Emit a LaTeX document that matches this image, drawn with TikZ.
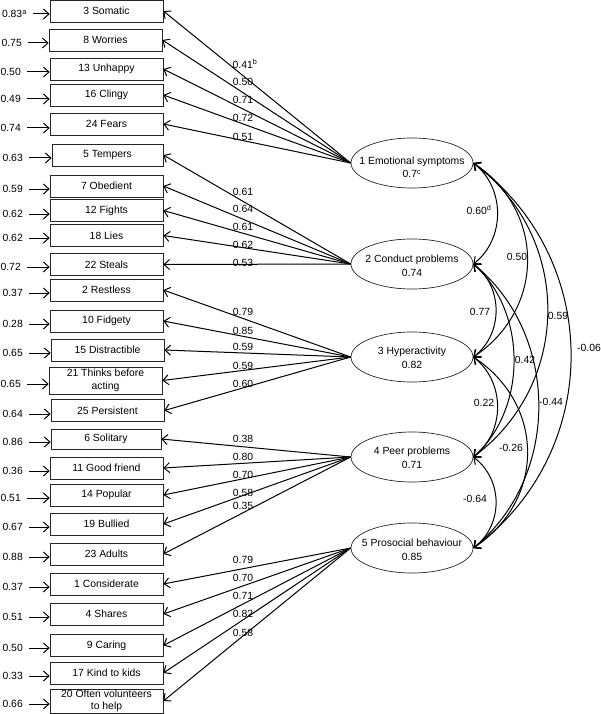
\documentclass[tikz,border=0pt]{standalone}
\usepackage{fontspec}
\setmainfont{Liberation Sans}
\usetikzlibrary{shapes.geometric,arrows.meta}
\begin{document}
\begin{tikzpicture}[x=1pt,y=-1pt,
 font=\fontsize{10.4}{12.5}\selectfont,
 box/.style={draw=black!85, line width=0.7pt, minimum width=113pt, minimum height=22pt, inner sep=0pt, align=center},
 err/.style={anchor=east, inner sep=0pt, text height=7.5pt, text depth=0pt},
 lat/.style={draw=black!85, line width=0.7pt, ellipse, minimum width=122pt, minimum height=50pt, inner sep=0pt},
 lattext/.style={align=center, inner sep=0pt, font=\fontsize{10.4}{13.5}\selectfont},
 arr/.style={line width=1pt, -{Straight Barb[length=5.5pt,width=10pt]}},
 earr/.style={arr, shorten <=6pt},
 cor/.style={line width=1pt, {Straight Barb[length=5.5pt,width=10pt]}-{Straight Barb[length=5.5pt,width=10pt]}},
 lbl/.style={inner sep=0pt}]
\useasboundingbox (0,0) rectangle (600,714);

% boxes
\node[box] (b1) at (106.5,11) {3 Somatic};
\node[box] (b2) at (105.5,40) {8 Worries};
\node[box] (b3) at (106.5,69) {13 Unhappy};
\node[box] (b4) at (106.5,95) {16 Clingy};
\node[box] (b5) at (106.5,124) {\raisebox{-3pt}{24 Fears}};
\node[box, minimum width=111pt] (b6) at (107.5,155) {5 Tempers};
\node[box] (b7) at (106.5,186) {7 Obedient};
\node[box] (b8) at (106.5,210.5) {12 Fights};
\node[box] (b9) at (106.5,235.5) {18 Lies};
\node[box] (b10) at (106.5,264.5) {\raisebox{-3pt}{22 Steals}};
\node[box] (b11) at (106.5,290) {2 Restless};
\node[box] (b12) at (106.5,321) {\raisebox{-1.5pt}{10 Fidgety}};
\node[box] (b13) at (107.5,350) {15 Distractible};
\node[box, minimum height=27pt] (b14) at (105.5,380.5) {21 Thinks before\\acting};
\node[box] (b15) at (107.5,410.5) {25 Persistent};
\node[box, minimum width=110pt, minimum height=20pt] (b16) at (106,439) {6 Solitary};
\node[box] (b17) at (106.5,468) {11 Good friend};
\node[box] (b18) at (106.5,495) {14 Popular};
\node[box] (b19) at (106.5,524) {19 Bullied};
\node[box] (b20) at (106.5,554) {23 Adults};
\node[box] (b21) at (106.5,584) {1 Considerate};
\node[box] (b22) at (106.5,614) {4 Shares};
\node[box] (b23) at (106.5,645.5) {9 Caring};
\node[box] (b24) at (106.5,673) {17 Kind to kids};
\node[box, minimum height=24pt] (b25) at (106.5,701) {20 Often volunteers\\to help};

% error terms
\node[err] (e1) at (27,14) {0.83\textsuperscript{a}};
\node[err] (e2) at (22,43) {0.75};
\node[err] (e3) at (21,72) {0.50};
\node[err] (e4) at (21,99) {0.49};
\node[err] (e5) at (21,128) {0.74};
\node[err] (e6) at (23,158) {0.63};
\node[err] (e7) at (23,189) {0.59};
\node[err] (e8) at (23,214) {0.62};
\node[err] (e9) at (23,238) {0.62};
\node[err] (e10) at (21,267) {0.72};
\node[err] (e11) at (23,293) {0.37};
\node[err] (e12) at (23,324) {0.28};
\node[err] (e13) at (23,353) {0.65};
\node[err] (e14) at (21,384) {0.65};
\node[err] (e15) at (23,414) {0.64};
\node[err] (e16) at (23,442) {0.86};
\node[err] (e17) at (23,471) {0.36};
\node[err] (e18) at (21,498) {0.51};
\node[err] (e19) at (23,527) {0.67};
\node[err] (e20) at (23,557) {0.88};
\node[err] (e21) at (23,587) {0.37};
\node[err] (e22) at (23,617) {0.51};
\node[err] (e23) at (23,648) {0.50};
\node[err] (e24) at (23,676) {0.33};
\node[err] (e25) at (23,704) {0.66};
\foreach \i in {1,...,25} {\draw[earr] (e\i.east) -- (e\i.east -| b\i.west);}

% latent factors
\node[lat] (f1) at (412,163) {};
\node[lattext] (t1) at ([yshift=-4.5pt]f1.center) {1 Emotional symptoms\\0.7\textsuperscript{c}};
\node[lat] (f2) at (412,264) {};
\node[lattext] (t2) at ([yshift=-2pt]f2.center) {2 Conduct problems\\0.74};
\node[lat] (f3) at (412,357) {};
\node[lattext] (t3) at ([yshift=-1pt]f3.center) {3 Hyperactivity\\0.82};
\node[lat] (f4) at (412,457) {};
\node[lattext] (t4) at ([yshift=-1pt]f4.center) {4 Peer problems\\0.71};
\node[lat] (f5) at (412,548) {};
\node[lattext] (t5) at ([yshift=-2pt]f5.center) {5 Prosocial behaviour\\0.85};

% loadings
\foreach \i in {1,...,5} {\draw[arr] (f1.west) -- (b\i.east);}
\foreach \i in {6,...,10} {\draw[arr] (f2.west) -- (b\i.east);}
\foreach \i in {11,...,15} {\draw[arr] (f3.west) -- (b\i.east);}
\foreach \i in {16,...,20} {\draw[arr] (f4.west) -- (b\i.east);}
\foreach \i in {21,...,25} {\draw[arr] (f5.west) -- (b\i.east);}

\node[lbl] (l1) at (245,64) {0.41\textsuperscript{b}};
\node[lbl] (l2) at (243,82) {0.50};
\node[lbl] (l3) at (243,100) {0.71};
\node[lbl] (l4) at (243,118) {0.72};
\node[lbl] (l5) at (243,137) {0.51};
\node[lbl] (l6) at (243,192) {0.61};
\node[lbl] (l7) at (243,209) {0.64};
\node[lbl] (l8) at (243,227) {0.61};
\node[lbl] (l9) at (243,245) {0.62};
\node[lbl] (l10) at (243,263) {0.53};
\node[lbl] (l11) at (243,312) {0.79};
\node[lbl] (l12) at (243,331) {0.85};
\node[lbl] (l13) at (243,347) {0.59};
\node[lbl] (l14) at (243,366) {0.59};
\node[lbl] (l15) at (243,384) {0.60};
\node[lbl] (l16) at (243,439) {0.38};
\node[lbl] (l17) at (243,457) {0.80};
\node[lbl] (l18) at (243,475) {0.70};
\node[lbl] (l19) at (243,493) {0.58};
\node[lbl] (l20) at (243,506) {0.35};
\node[lbl] (l21) at (243,560) {0.79};
\node[lbl] (l22) at (243,578) {0.70};
\node[lbl] (l23) at (243,596) {0.71};
\node[lbl] (l24) at (243,614) {0.82};
\node[lbl] (l25) at (243,633) {0.58};

% correlations
\draw[cor] (f1.east) .. controls +(32,25) and +(32,-25) .. (f2.east);
\draw[cor] (f1.east) .. controls +(72,48) and +(72,-48) .. (f3.east);
\draw[cor] (f1.east) .. controls +(99,74) and +(99,-74) .. (f4.east);
\draw[cor] (f1.east) .. controls +(130,96) and +(130,-96) .. (f5.east);
\draw[cor] (f2.east) .. controls +(30,23) and +(30,-23) .. (f3.east);
\draw[cor] (f2.east) .. controls +(54,48) and +(54,-48) .. (f4.east);
\draw[cor] (f2.east) .. controls +(87,71) and +(87,-71) .. (f5.east);
\draw[cor] (f3.east) .. controls +(32,25) and +(32,-25) .. (f4.east);
\draw[cor] (f3.east) .. controls +(72,48) and +(72,-48) .. (f5.east);
\draw[cor] (f4.east) .. controls +(30,23) and +(30,-23) .. (f5.east);

\node[lbl] (c12) at (479,210) {0.60\textsuperscript{d}};
\node[lbl] (c13) at (517,257) {0.50};
\node[lbl] (c14) at (558,316) {0.59};
\node[lbl] (c15) at (589,348) {-0.06};
\node[lbl] (c23) at (480,312) {0.77};
\node[lbl] (c24) at (525,360) {0.42};
\node[lbl] (c25) at (551,402) {-0.44};
\node[lbl] (c34) at (484,403) {0.22};
\node[lbl] (c35) at (511,448) {-0.26};
\node[lbl] (c45) at (475,499) {-0.64};
\end{tikzpicture}
\end{document}
